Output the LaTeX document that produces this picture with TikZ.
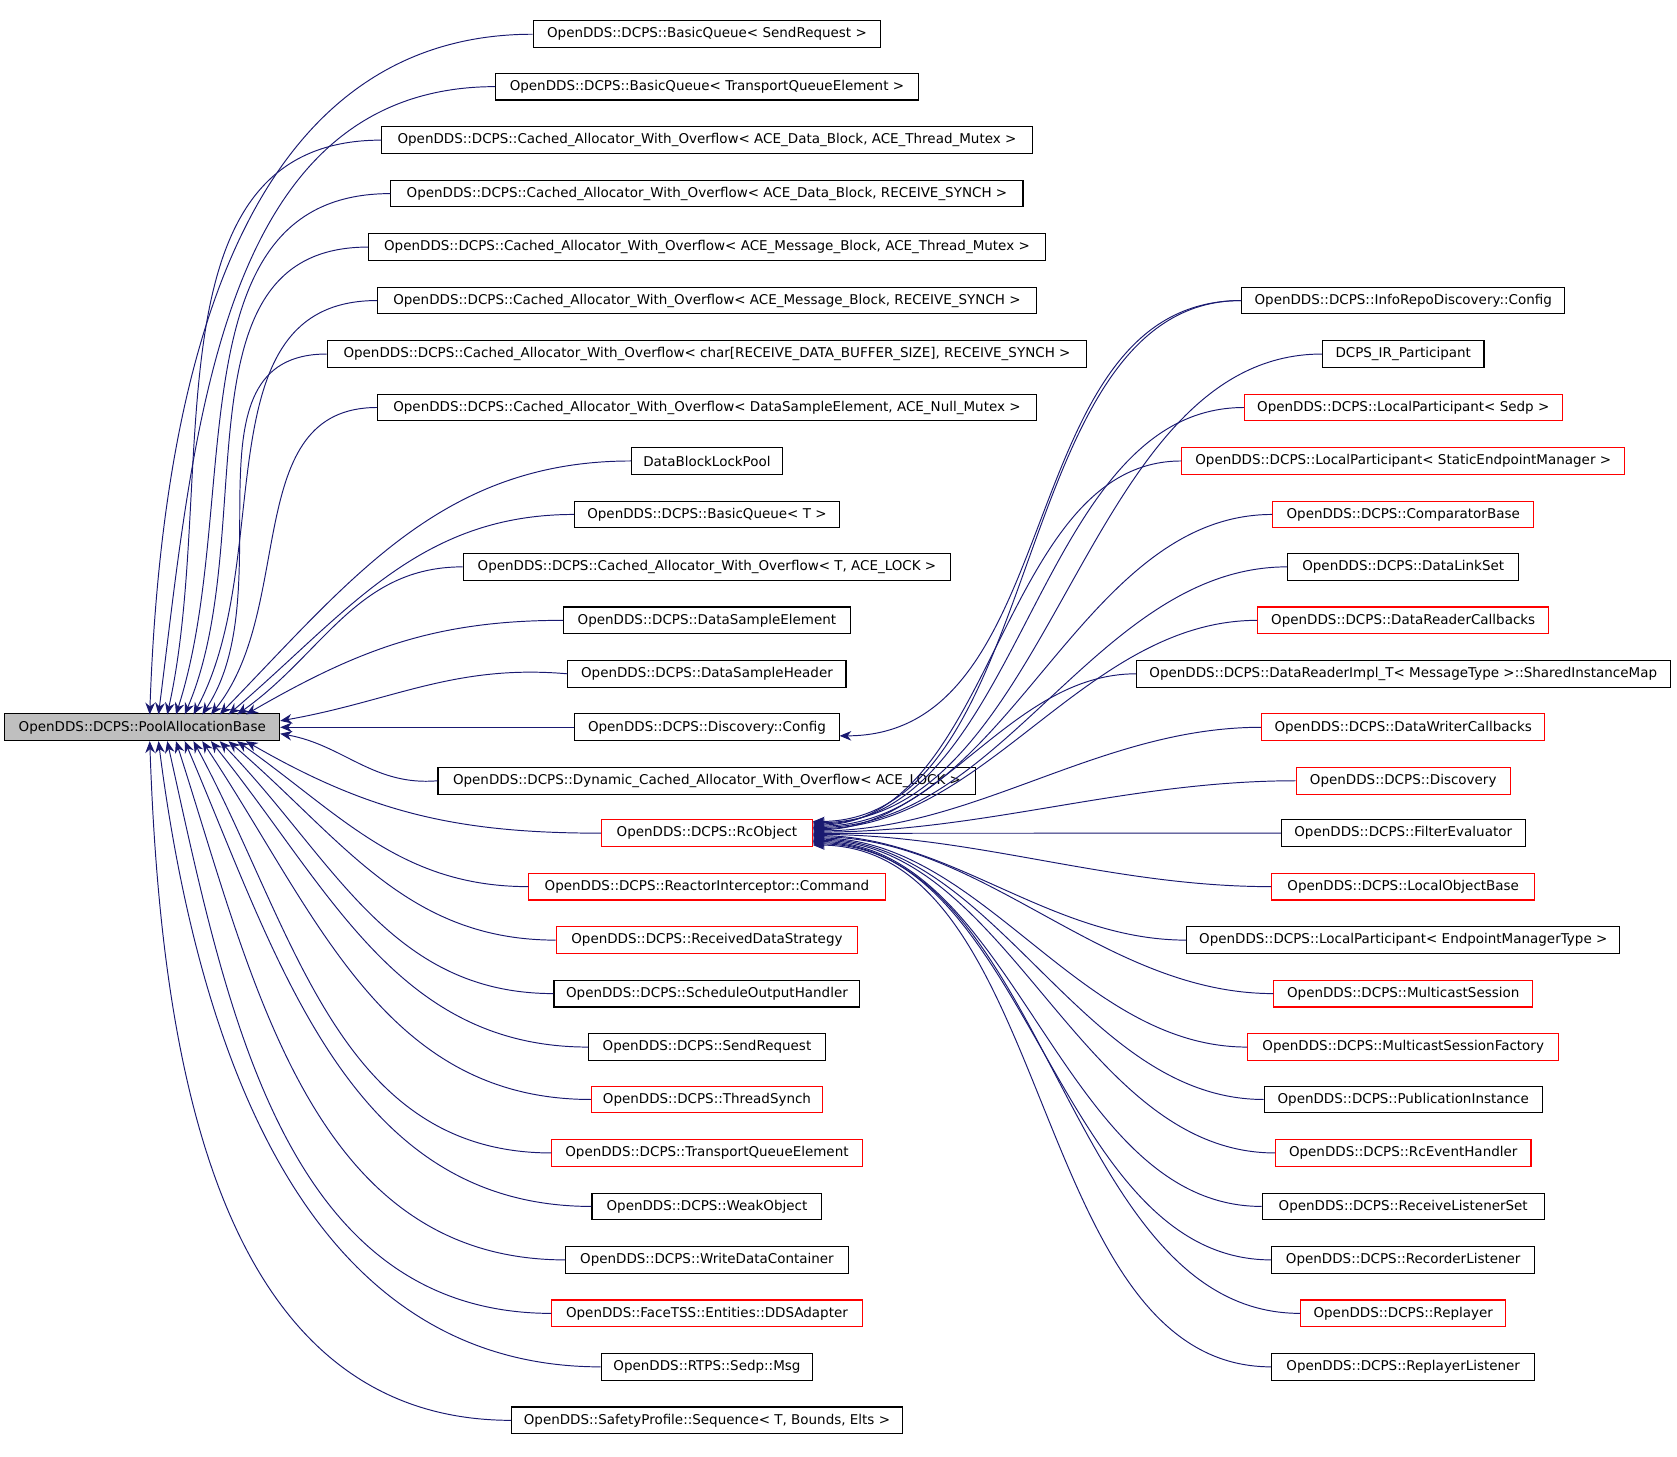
\documentclass[tikz,border=0pt]{standalone}
\usepackage{fontspec}
\setmainfont{DejaVu Sans}
\usetikzlibrary{arrows.meta,positioning}
\definecolor{edgeblue}{RGB}{25,25,112}
\definecolor{rootfill}{RGB}{191,191,191}
\tikzset{
    cls/.style={draw=black, fill=white, line width=0.5pt, minimum height=12.5pt,
        inner sep=1pt, font=\fontsize{6.3}{7}\selectfont},
    redcls/.style={cls, draw=red},
    edge/.style={edgeblue, line width=0.45pt, -{Stealth[length=5.5pt,width=4.5pt]}}
}
\begin{document}
\begin{tikzpicture}[x=0.5pt, y=-0.5pt]
    \useasboundingbox (0,0) rectangle (1568,1362);

    % Root
    \node[cls, fill=rootfill, minimum width=128.5pt] (root) at (133,680) {OpenDDS::DCPS::PoolAllocationBase};

    % Middle column
    \node[cls, minimum width=162.5pt] (m1) at (661,32) {OpenDDS::DCPS::BasicQueue< SendRequest >};
    \node[cls, minimum width=197.5pt] (m2) at (661,81) {OpenDDS::DCPS::BasicQueue< TransportQueueElement >};
    \node[cls, minimum width=304pt] (m3) at (661,131) {OpenDDS::DCPS::Cached\_Allocator\_With\_Overflow< ACE\_Data\_Block, ACE\_Thread\_Mutex >};
    \node[cls, minimum width=295.5pt] (m4) at (661,181) {OpenDDS::DCPS::Cached\_Allocator\_With\_Overflow< ACE\_Data\_Block, RECEIVE\_SYNCH >};
    \node[cls, minimum width=316.5pt] (m5) at (661,231) {OpenDDS::DCPS::Cached\_Allocator\_With\_Overflow< ACE\_Message\_Block, ACE\_Thread\_Mutex >};
    \node[cls, minimum width=308pt] (m6) at (661,281) {OpenDDS::DCPS::Cached\_Allocator\_With\_Overflow< ACE\_Message\_Block, RECEIVE\_SYNCH >};
    \node[cls, minimum width=355pt] (m7) at (661,331) {OpenDDS::DCPS::Cached\_Allocator\_With\_Overflow< char[RECEIVE\_DATA\_BUFFER\_SIZE], RECEIVE\_SYNCH >};
    \node[cls, minimum width=308pt] (m8) at (661,381) {OpenDDS::DCPS::Cached\_Allocator\_With\_Overflow< DataSampleElement, ACE\_Null\_Mutex >};
    \node[cls, minimum width=70.5pt] (m9) at (661,431) {DataBlockLockPool};
    \node[cls, minimum width=124pt] (m10) at (661,481) {OpenDDS::DCPS::BasicQueue< T >};
    \node[cls, minimum width=228pt] (m11) at (661,530) {OpenDDS::DCPS::Cached\_Allocator\_With\_Overflow< T, ACE\_LOCK >};
    \node[cls, minimum width=134pt] (m12) at (661,580) {OpenDDS::DCPS::DataSampleElement};
    \node[cls, minimum width=130pt] (m13) at (661,630) {OpenDDS::DCPS::DataSampleHeader};
    \node[cls, minimum width=123.5pt] (m14) at (661,680) {OpenDDS::DCPS::Discovery::Config};
    \node[cls, minimum width=251.5pt] (m15) at (661,730) {OpenDDS::DCPS::Dynamic\_Cached\_Allocator\_With\_Overflow< ACE\_LOCK >};
    \node[redcls, minimum width=98.5pt] (rc) at (661,779) {OpenDDS::DCPS::RcObject};
    \node[redcls, minimum width=166.5pt] (m17) at (661,829) {OpenDDS::DCPS::ReactorInterceptor::Command};
    \node[redcls, minimum width=141pt] (m18) at (661,879) {OpenDDS::DCPS::ReceivedDataStrategy};
    \node[cls, minimum width=143pt] (m19) at (661,929) {OpenDDS::DCPS::ScheduleOutputHandler};
    \node[cls, minimum width=110.5pt] (m20) at (661,979) {OpenDDS::DCPS::SendRequest};
    \node[redcls, minimum width=108pt] (m21) at (661,1028) {OpenDDS::DCPS::ThreadSynch};
    \node[redcls, minimum width=145pt] (m22) at (661,1078) {OpenDDS::DCPS::TransportQueueElement};
    \node[cls, minimum width=107.5pt] (m23) at (661,1128) {OpenDDS::DCPS::WeakObject};
    \node[cls, minimum width=132pt] (m24) at (661,1178) {OpenDDS::DCPS::WriteDataContainer};
    \node[redcls, minimum width=145pt] (m25) at (661,1228) {OpenDDS::FaceTSS::Entities::DDSAdapter};
    \node[cls, minimum width=99pt] (m26) at (661,1278) {OpenDDS::RTPS::Sedp::Msg};
    \node[cls, minimum width=182.5pt] (m27) at (661,1328) {OpenDDS::SafetyProfile::Sequence< T, Bounds, Elts >};

    % Right column
    \node[cls, minimum width=151pt] (r1) at (1312,281) {OpenDDS::DCPS::InfoRepoDiscovery::Config};
    \node[cls, minimum width=75.5pt] (r2) at (1312,331) {DCPS\_IR\_Participant};
    \node[redcls, minimum width=148.5pt] (r3) at (1312,381) {OpenDDS::DCPS::LocalParticipant< Sedp >};
    \node[redcls, minimum width=207pt] (r4) at (1312,431) {OpenDDS::DCPS::LocalParticipant< StaticEndpointManager >};
    \node[redcls, minimum width=122pt] (r5) at (1312,481) {OpenDDS::DCPS::ComparatorBase};
    \node[cls, minimum width=108pt] (r6) at (1312,530) {OpenDDS::DCPS::DataLinkSet};
    \node[redcls, minimum width=136pt] (r7) at (1312,580) {OpenDDS::DCPS::DataReaderCallbacks};
    \node[cls, minimum width=249.5pt] (r8) at (1312,630) {OpenDDS::DCPS::DataReaderImpl\_T< MessageType >::SharedInstanceMap};
    \node[redcls, minimum width=132.5pt] (r9) at (1312,680) {OpenDDS::DCPS::DataWriterCallbacks};
    \node[redcls, minimum width=100pt] (r10) at (1312,730) {OpenDDS::DCPS::Discovery};
    \node[cls, minimum width=114pt] (r11) at (1312,779) {OpenDDS::DCPS::FilterEvaluator};
    \node[redcls, minimum width=123pt] (r12) at (1312,829) {OpenDDS::DCPS::LocalObjectBase};
    \node[cls, minimum width=202.5pt] (r13) at (1312,879) {OpenDDS::DCPS::LocalParticipant< EndpointManagerType >};
    \node[redcls, minimum width=121pt] (r14) at (1312,929) {OpenDDS::DCPS::MulticastSession};
    \node[redcls, minimum width=145.5pt] (r15) at (1312,979) {OpenDDS::DCPS::MulticastSessionFactory};
    \node[cls, minimum width=130pt] (r16) at (1312,1028) {OpenDDS::DCPS::PublicationInstance};
    \node[redcls, minimum width=119.5pt] (r17) at (1312,1078) {OpenDDS::DCPS::RcEventHandler};
    \node[cls, minimum width=132pt] (r18) at (1312,1128) {OpenDDS::DCPS::ReceiveListenerSet};
    \node[cls, minimum width=123pt] (r19) at (1312,1178) {OpenDDS::DCPS::RecorderListener};
    \node[redcls, minimum width=96pt] (r20) at (1312,1228) {OpenDDS::DCPS::Replayer};
    \node[cls, minimum width=123pt] (r21) at (1312,1278) {OpenDDS::DCPS::ReplayerListener};

    % Edges to the root
    \foreach \i/\n in {1/m1,2/m2,3/m3,4/m4,5/m5,6/m6,7/m7,8/m8,9/m9,10/m10,11/m11,12/m12,
                       16/rc,17/m17,18/m18,19/m19,20/m20,21/m21,22/m22,23/m23,24/m24,25/m25,26/m26,27/m27} {
        \pgfmathsetmacro{\f}{1-(abs(\i-14)-2)/11}
        \pgfmathsetmacro{\ex}{140+90*\f}
        \pgfmathsetmacro{\ang}{30+58*(1-\f)}
        \ifnum\i<14
            \draw[edge] (\n.west) to[out=180, in=\ang] (\ex,668);
        \else
            \draw[edge] (\n.west) to[out=180, in=-\ang] (\ex,693);
        \fi
    }
    \draw[edge] (m13.west) to[out=175, in=10] ([yshift=3pt]root.east);
    \draw[edge] (m14.west) -- (root.east);
    \draw[edge] (m15.west) to[out=185, in=-10] ([yshift=-3pt]root.east);

    % Edges to RcObject
    \foreach \j in {1,...,21} {
        \pgfmathsetmacro{\dy}{6-\j*0.55}
        \draw[edge] (r\j.west) to[out=180, in=0, looseness=0.9] ([yshift=\dy pt]rc.east);
    }
    \draw[edge] (r1.west) to[out=180, in=0] ([yshift=-4pt]m14.east);
\end{tikzpicture}
\end{document}
